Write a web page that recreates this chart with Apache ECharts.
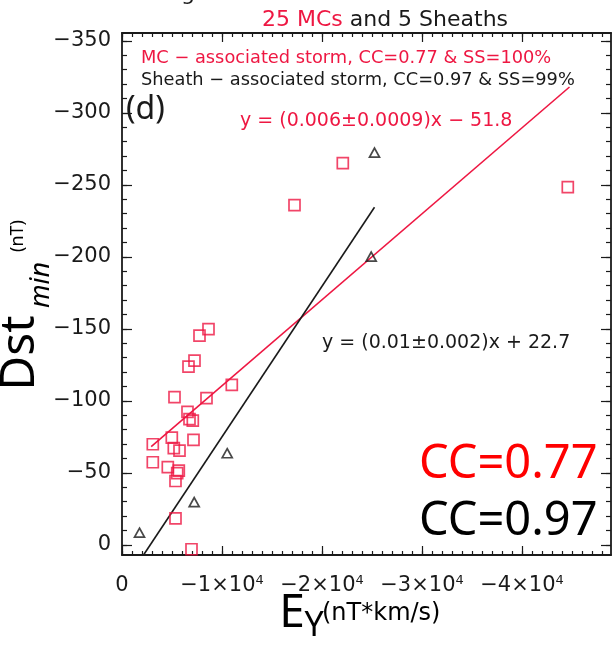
<!DOCTYPE html>
<html><head><meta charset="utf-8">
<script src="https://cdn.jsdelivr.net/npm/echarts@6/dist/echarts.min.js"></script>
<style>html,body{margin:0;padding:0;background:#fff}#c{width:615px;height:645px}</style>
</head><body><div id="c"></div>
<script>
// ---- data ----
const mcEy  = [-8650,-7750,-7250,-6650,-10980,-5250,-8450,-6550,-6750,-7080,-4980,-7150,-3080,-5180,-5750,-3080,-4580,-5680,-5520,-5350,-5350,-6950,-22080,-17250,-44580];
const mcDst = [-149.8,-145.3,-128.0,-123.8,-111.1,-102.6,-101.9,-92.4,-87.3,-86.3,-74.5,-72.9,-69.9,-67.2,-65.5,-57.4,-54.0,-51.6,-49.8,-44.4,-18.5,3.0,-265.1,-235.9,-248.4];
const shEy  = [-1750,-7220,-10520,-25250,-24920];
const shDst = [-8.5,-29.7,-63.7,-272.4,-200.2];
const mcFitEy  = [-2920,-44750];
const mcFitDst = [-68.3,-318];
const shFitEy  = [-2150,-25250];
const shFitDst = [7,-234.5];
const xTickValues = [0,-10000,-20000,-30000,-40000];
const xTickLabels = ['0','−1×10','−2×10','−3×10','−4×10'];
const xTickExp    = ['','4','4','4','4'];
const yTickValues = [0,-50,-100,-150,-200,-250,-300,-350];
const yTickLabels = ['0','−50','−100','−150','−200','−250','−300','−350'];

const RED = '#ee1742';
const INK = '#1a1a1a';
const GFONT = '"DejaVu Sans"';
const SFONT = '"Noto Sans"';

const xRange = [-48900, 0];
const yRange = [-355.5, 7];

const xMinor = []; for (let v = 0; v >= -48000; v -= 1000) xMinor.push(v);
const yMinor = []; for (let v = 0; v >= -350; v -= 10) yMinor.push(v);

function xAx(pos, ticks, len, showLine, labels) {
  return {
    type: 'value', position: pos, min: xRange[0], max: xRange[1], inverse: true,
    axisLine: {show: showLine, onZero: false, lineStyle: {color: INK, width: 1.8}},
    axisTick: {show: true, inside: true, length: len, customValues: ticks, lineStyle: {color: INK, width: 1.2}},
    axisLabel: labels ? {
      show: true, customValues: xTickValues, margin: 19, color: INK,
      fontFamily: 'DejaVu Sans', fontSize: 21,
      formatter: function (v) {
        const i = xTickValues.indexOf(Math.round(v));
        if (i < 0) return '';
        return xTickExp[i] ? '{m|' + xTickLabels[i] + '}{s|' + xTickExp[i] + '}' : '{m|' + xTickLabels[i] + '}';
      },
      rich: {
        m: {fontFamily: 'DejaVu Sans', fontSize: 21, lineHeight: 24, color: INK},
        s: {fontFamily: 'DejaVu Sans', fontSize: 13, lineHeight: 13, verticalAlign: 'top', color: INK}
      }
    } : {show: false},
    splitLine: {show: false}
  };
}
function yAx(pos, ticks, len, showLine, labels) {
  return {
    type: 'value', position: pos, min: yRange[0], max: yRange[1], inverse: true,
    axisLine: {show: showLine, onZero: false, lineStyle: {color: INK, width: 1.8}},
    axisTick: {show: true, inside: true, length: len, customValues: ticks, lineStyle: {color: INK, width: 1.2}},
    axisLabel: labels ? {
      show: true, customValues: yTickValues, margin: 11, color: INK,
      fontFamily: 'DejaVu Sans', fontSize: 21,
      formatter: function (v) {
        const i = yTickValues.indexOf(Math.round(v));
        return i < 0 ? '' : yTickLabels[i];
      }
    } : {show: false},
    splitLine: {show: false}
  };
}

const chart = echarts.init(document.getElementById('c'), null, {renderer: 'canvas'});
chart.setOption({
  animation: false,
  backgroundColor: '#fff',
  grid: {left: 122, top: 33, width: 489, height: 522, containLabel: false},
  xAxis: [
    xAx('bottom', xTickValues, 9, true, true),
    xAx('bottom', xMinor, 4, false, false),
    xAx('top', xTickValues, 9, true, false),
    xAx('top', xMinor, 4, false, false)
  ],
  yAxis: [
    yAx('left', yTickValues, 10, true, true),
    yAx('left', yMinor, 5, false, false),
    yAx('right', yTickValues, 10, true, false),
    yAx('right', yMinor, 5, false, false)
  ],
  series: [
    {type: 'line', data: mcFitEy.map((x, i) => [x, mcFitDst[i]]), showSymbol: false, symbol: 'none',
     lineStyle: {color: RED, width: 1.6}, z: 2},
    {type: 'line', data: shFitEy.map((x, i) => [x, shFitDst[i]]), showSymbol: false, symbol: 'none',
     lineStyle: {color: INK, width: 1.6}, z: 2},
    {type: 'scatter', data: mcEy.map((x, i) => [x, mcDst[i]]), symbol: 'rect', symbolSize: 11,
     itemStyle: {color: 'rgba(0,0,0,0)', borderColor: RED, borderWidth: 1.7}, z: 3, clip: false},
    {type: 'scatter', data: shEy.map((x, i) => [x, shDst[i]]), symbol: 'triangle', symbolSize: [10, 9],
     itemStyle: {color: 'rgba(0,0,0,0)', borderColor: INK, borderWidth: 1.7}, z: 3, clip: false}
  ],
  graphic: [
    {type: 'text', x: 188, y: -6, style: {text: 'g', font: '22px ' + GFONT, fill: INK, textAlign: 'center', textVerticalAlign: 'middle'}},
    {type: 'text', x: 385, y: 20, style: {text: '{r|25 MCs} {k|and 5 Sheaths}', font: '22px ' + GFONT, textAlign: 'center', textVerticalAlign: 'middle',
      rich: {r: {fill: RED, font: '22px ' + GFONT}, k: {fill: INK, font: '22px ' + GFONT}}}},
    {type: 'text', x: 141, y: 58, style: {text: 'MC − associated storm, CC=0.77 & SS=100%', font: '17.8px ' + GFONT, fill: RED, textAlign: 'left', textVerticalAlign: 'middle'}},
    {type: 'text', x: 141, y: 80, style: {text: 'Sheath − associated storm, CC=0.97 & SS=99%', font: '17.8px ' + GFONT, fill: INK, textAlign: 'left', textVerticalAlign: 'middle'}},
    {type: 'text', x: 126, y: 110, style: {text: '(d)', font: '32px ' + SFONT, fill: INK, textAlign: 'left', textVerticalAlign: 'middle'}},
    {type: 'text', x: 240, y: 121, style: {text: 'y = (0.006±0.0009)x − 51.8', font: '19px ' + GFONT, fill: RED, textAlign: 'left', textVerticalAlign: 'middle'}},
    {type: 'text', x: 322, y: 343, style: {text: 'y = (0.01±0.002)x + 22.7', font: '19px ' + GFONT, fill: INK, textAlign: 'left', textVerticalAlign: 'middle'}},
    {type: 'text', x: 419, y: 465, style: {text: 'CC=0.77', font: '47px ' + SFONT, fill: '#ff0000', textAlign: 'left', textVerticalAlign: 'middle'}},
    {type: 'text', x: 419, y: 522, style: {text: 'CC=0.97', font: '47px ' + SFONT, fill: '#000', textAlign: 'left', textVerticalAlign: 'middle'}},
    {type: 'text', x: 20, y: 353, rotation: Math.PI / 2, style: {text: 'Dst', font: '48px ' + SFONT, fill: '#000', textAlign: 'center', textVerticalAlign: 'middle'}},
    {type: 'text', x: 41, y: 285, rotation: Math.PI / 2, style: {text: 'min', font: 'italic 27px ' + SFONT, fill: '#000', textAlign: 'center', textVerticalAlign: 'middle'}},
    {type: 'text', x: 18, y: 236, rotation: Math.PI / 2, style: {text: '(nT)', font: '18px ' + SFONT, fill: '#000', textAlign: 'center', textVerticalAlign: 'middle'}},
    {type: 'text', x: 292, y: 614, style: {text: 'E', font: '46px ' + SFONT, fill: '#000', textAlign: 'center', textVerticalAlign: 'middle'}},
    {type: 'text', x: 314, y: 626, style: {text: 'Y', font: '34px ' + SFONT, fill: '#000', textAlign: 'center', textVerticalAlign: 'middle'}},
    {type: 'text', x: 322, y: 614, style: {text: '(nT*km/s)', font: '24px ' + GFONT, fill: '#000', textAlign: 'left', textVerticalAlign: 'middle'}}
  ]
});
</script></body></html>
